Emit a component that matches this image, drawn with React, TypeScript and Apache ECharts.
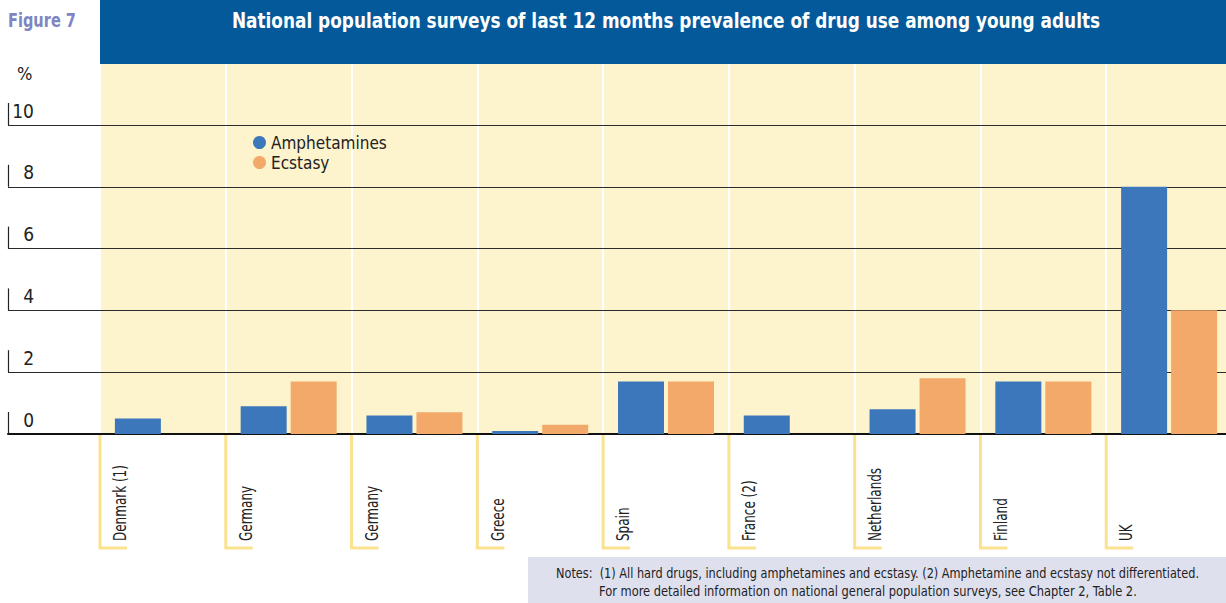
import React, { useEffect, useRef } from "react";
import * as echarts from "echarts";

const categories = ["Denmark (1)", "Germany", "Germany", "Greece", "Spain", "France (2)", "Netherlands", "Finland", "UK"];
const amphetamines = [0.5, 0.9, 0.6, 0.1, 1.7, 0.6, 0.8, 1.7, 8.0];
const ecstasy: (number | null)[] = [null, 1.7, 0.7, 0.3, 1.7, null, 1.8, 1.7, 4.0];
const yTicks = [0, 2, 4, 6, 8, 10];
const seriesNames = ["Amphetamines", "Ecstasy"];
const titleText = "National population surveys of last 12 months prevalence of drug use among young adults";
const figureText = "Figure 7";
const unitText = "%";
const notesLines = [
  "Notes:  (1) All hard drugs, including amphetamines and ecstasy. (2) Amphetamine and ecstasy not differentiated.",
  "For more detailed information on national general population surveys, see Chapter 2, Table 2.",
];

const FONT = "'DejaVu Sans Condensed', sans-serif";

function fitScale(text: string, font: string, target: number): number {
  try {
    const c = document.createElement("canvas").getContext("2d");
    if (!c) return 1;
    c.font = font;
    const w = c.measureText(text).width;
    return w > 0 ? target / w : 1;
  } catch (e) {
    return 1;
  }
}

export default function App() {
  const ref = useRef<HTMLDivElement>(null);
  useEffect(() => {
    if (!ref.current) return;
    const chart = echarts.init(ref.current, undefined, { renderer: "svg" });
    const titleScale = fitScale(titleText, "bold 22px " + FONT, 869);
    const figScale = fitScale(figureText, "bold 20px " + FONT, 68);
    const note1Scale = fitScale(notesLines[0], "14px " + FONT, 644);
    const note2Scale = fitScale(notesLines[1], "14px " + FONT, 538);
    const labelScale = fitScale(categories[0], "18px " + FONT, 76);
    const option: any = {
      animation: false,
      backgroundColor: "#ffffff",
      grid: [
        { left: 8, right: 0, top: 125, bottom: 169, outerBoundsMode: "none" },
        {
          left: 100,
          width: 1132,
          top: 63,
          bottom: 169,
          show: true,
          backgroundColor: "#fdf4cd",
          borderWidth: 0,
          outerBoundsMode: "none",
        },
      ],
      legend: {
        data: seriesNames,
        orient: "vertical",
        left: 253,
        top: 134,
        icon: "circle",
        itemWidth: 13,
        itemHeight: 13,
        itemGap: 3,
        padding: 0,
        textStyle: { fontSize: 17, color: "#222", fontFamily: FONT },
      },
      xAxis: [
        {
          gridIndex: 0,
          type: "value",
          min: 0,
          max: 1,
          axisLine: { show: true, lineStyle: { color: "#111", width: 2 } },
          axisTick: { show: false },
          axisLabel: { show: false },
          splitLine: { show: false },
          z: 1,
        },
        {
          gridIndex: 1,
          type: "category",
          data: categories,
          axisLine: { show: false },
          axisTick: { show: false },
          axisLabel: { show: false },
          splitLine: { show: true, interval: 0, lineStyle: { color: "#ffffff", width: 2 } },
          z: 0,
        },
      ],
      yAxis: [
        {
          gridIndex: 0,
          type: "value",
          min: 0,
          max: 10,
          interval: 2,
          axisLine: { show: false },
          axisTick: { show: false },
          axisLabel: {
            inside: true,
            margin: 26,
            align: "right",
            verticalAlign: "bottom",
            padding: [0, 0, 5, 0],
            fontSize: 19,
            color: "#222",
            fontFamily: FONT,
          },
          splitLine: { show: true, lineStyle: { color: "#2b2b2b", width: 1.2 } },
          z: 1,
        },
        { gridIndex: 1, type: "value", min: 0, max: 12, show: false, splitLine: { show: false } },
      ],
      series: [
        {
          name: seriesNames[0],
          type: "bar",
          xAxisIndex: 1,
          yAxisIndex: 1,
          data: amphetamines,
          barWidth: 46,
          barGap: "8.7%",
          itemStyle: { color: "#3b77ba" },
          z: 2,
        },
        {
          name: seriesNames[1],
          type: "bar",
          xAxisIndex: 1,
          yAxisIndex: 1,
          data: ecstasy,
          barWidth: 46,
          barGap: "8.7%",
          itemStyle: { color: "#f3a96a" },
          z: 2,
        },
        {
          type: "custom",
          xAxisIndex: 0,
          yAxisIndex: 0,
          data: yTicks.map((v) => [0, v]),
          silent: true,
          z: 3,
          renderItem: (params: any, api: any) => {
            const p = api.coord([0, api.value(1)]);
            return {
              type: "line",
              shape: { x1: p[0] + 0.5, y1: p[1], x2: p[0] + 0.5, y2: p[1] - 22 },
              style: { stroke: "#222", lineWidth: 1.2 },
            };
          },
        },
        {
          type: "custom",
          xAxisIndex: 1,
          yAxisIndex: 1,
          data: categories.map((c, i) => [i, 0]),
          silent: true,
          clip: false,
          z: 3,
          renderItem: (params: any, api: any) => {
            const i = api.value(0);
            const p = api.coord([i, 0]);
            const bw = api.size([1, 0])[0];
            const left = p[0] - bw / 2;
            return {
              type: "group",
              children: [
                {
                  type: "polyline",
                  shape: { points: [[left, p[1] + 1], [left, p[1] + 114], [left + 27, p[1] + 114]] },
                  style: { stroke: "#fbe28e", lineWidth: 3, fill: null },
                },
                {
                  type: "text",
                  x: left + 20,
                  y: p[1] + 107,
                  rotation: Math.PI / 2,
                  scaleX: labelScale,
                  style: {
                    text: categories[i],
                    align: "left",
                    verticalAlign: "middle",
                    fontSize: 18,
                    fontFamily: FONT,
                    fill: "#222",
                  },
                },
              ],
            };
          },
        },
      ],
      graphic: [
        { type: "rect", left: 100, top: 0, shape: { width: 1126, height: 64 }, style: { fill: "#03599a" }, z: 10 },
        {
          type: "text",
          x: 666,
          y: 20,
          scaleX: titleScale,
          style: { text: titleText, align: "center", verticalAlign: "middle", fill: "#fff", fontSize: 22, fontWeight: "bold", fontFamily: FONT },
          z: 11,
        },
        {
          type: "text",
          x: 8,
          y: 20,
          scaleX: figScale,
          style: { text: figureText, align: "left", verticalAlign: "middle", fill: "#7d85c3", fontSize: 20, fontWeight: "bold", fontFamily: FONT },
          z: 11,
        },
        {
          type: "text",
          x: 17,
          y: 73,
          style: { text: unitText, align: "left", verticalAlign: "middle", fill: "#222", fontSize: 18, fontFamily: FONT },
          z: 11,
        },
        { type: "rect", left: 528, top: 557, shape: { width: 698, height: 46 }, style: { fill: "#dfe0ee" }, z: 10 },
        {
          type: "text",
          x: 556,
          y: 573,
          scaleX: note1Scale,
          style: { text: notesLines[0], align: "left", verticalAlign: "middle", fill: "#222", fontSize: 14, fontFamily: FONT },
          z: 11,
        },
        {
          type: "text",
          x: 599,
          y: 591,
          scaleX: note2Scale,
          style: { text: notesLines[1], align: "left", verticalAlign: "middle", fill: "#222", fontSize: 14, fontFamily: FONT },
          z: 11,
        },
      ],
    };
    chart.setOption(option);
    return () => chart.dispose();
  }, []);
  return <div ref={ref} style={{ position: "absolute", left: 0, top: 0, width: 1226, height: 603 }} />;
}
